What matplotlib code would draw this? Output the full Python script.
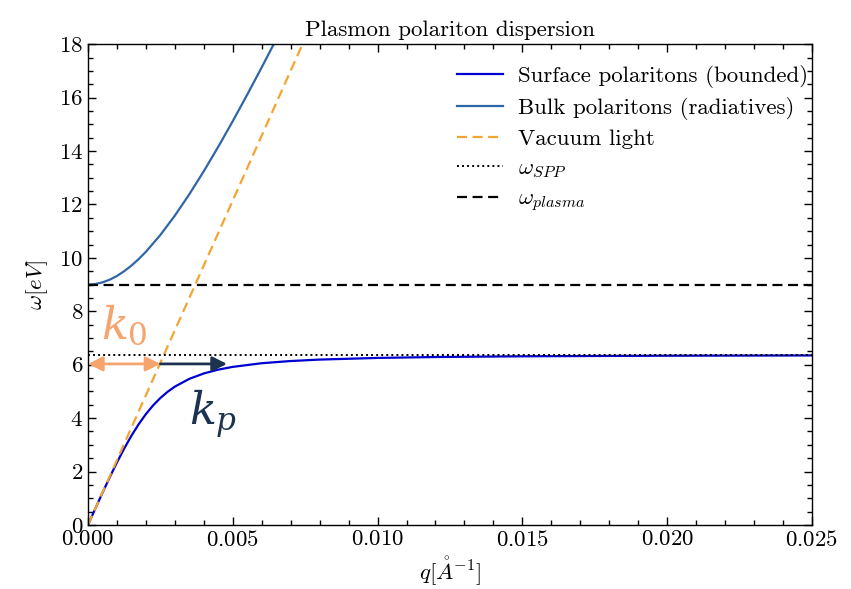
import matplotlib
matplotlib.use("Agg")
import matplotlib.pyplot as plt
from matplotlib.ticker import MultipleLocator

plt.rcParams['font.family'] = 'serif'
plt.rcParams['font.serif'] = ['cmr10', 'DejaVu Serif']
plt.rcParams['mathtext.fontset'] = 'cm'
plt.rcParams['axes.formatter.use_mathtext'] = True

# Surface plasmon polariton branch
q_surf = [0.0, 0.00025, 0.0005, 0.00075, 0.001, 0.00125, 0.0015, 0.00175, 0.002,
          0.00225, 0.0025, 0.00275, 0.003, 0.0035, 0.004, 0.0045, 0.005, 0.006,
          0.007, 0.008, 0.010, 0.012, 0.015, 0.020, 0.025]
w_surf = [0.0, 0.606, 1.204, 1.785, 2.340, 2.862, 3.341, 3.772, 4.152,
          4.478, 4.755, 4.987, 5.180, 5.471, 5.673, 5.816, 5.919, 6.056,
          6.138, 6.192, 6.254, 6.288, 6.315, 6.337, 6.347]

# Bulk polariton branch
q_bulk = [0.0, 0.00025, 0.0005, 0.00075, 0.001, 0.00125, 0.0015, 0.00175, 0.002,
          0.0025, 0.003, 0.0035, 0.004, 0.0045, 0.005, 0.0055, 0.006, 0.0065]
w_bulk = [9.0, 9.021, 9.082, 9.183, 9.322, 9.501, 9.710, 9.955, 10.228,
          10.858, 11.582, 12.383, 13.247, 14.162, 15.120, 16.113, 17.134, 18.179]

# Vacuum light line
q_light = [0.0, 0.0075]
w_light = [0.0, 18.225]

w_spp = 6.364
w_plasma = 9.0

# annotation arrows
k0_range = [0.0, 0.0025]
kp_range = [0.0025, 0.0048]
arrow_w = 6.03

fs = 16.5

fig = plt.figure(figsize=(8.51, 5.89), dpi=100)
ax = fig.add_axes([0.1034, 0.1087, 0.8507, 0.8163])

ax.plot(q_surf, w_surf, color='#0000D0', lw=1.6, label='Surface polaritons (bounded)')
ax.plot(q_bulk, w_bulk, color='#2F66A6', lw=1.6, label='Bulk polaritons (radiatives)')
ax.plot(q_light, w_light, color='#F2A531', lw=1.6, ls=(0, (4.5, 2.5)), label='Vacuum light')
ax.axhline(w_spp, color='black', lw=1.4, ls=(0, (1, 1.6)), label=r'$\omega_{SPP}$')
ax.axhline(w_plasma, color='black', lw=1.6, ls=(0, (4.5, 2.5)), label=r'$\omega_{plasma}$')

ax.set_xlim(0, 0.025)
ax.set_ylim(0, 18)
ax.xaxis.set_major_locator(MultipleLocator(0.005))
ax.xaxis.set_minor_locator(MultipleLocator(0.001))
ax.yaxis.set_major_locator(MultipleLocator(2))
ax.yaxis.set_minor_locator(MultipleLocator(0.5))
ax.tick_params(which='both', direction='in', top=True, right=True, labelsize=fs)
ax.tick_params(which='major', length=6, width=1)
ax.tick_params(which='minor', length=3.5, width=1)
for s in ax.spines.values():
    s.set_linewidth(1.0)

ax.set_xlabel(r'$q [\mathring{A}^{-1}]$', fontsize=fs, labelpad=4)
ax.set_ylabel(r'$\omega [eV]$', fontsize=fs, labelpad=6)
ax.set_title('Plasmon polariton dispersion', fontsize=fs, pad=6)

leg = ax.legend(loc='upper right', bbox_to_anchor=(1.0235, 1.0), frameon=False,
                fontsize=fs, handlelength=2.0, borderaxespad=0.5, labelspacing=0.4,
                handletextpad=0.65)

orange = '#F5A46E'
navy = '#1B3350'
ax.annotate('', xy=(kp_range[1], arrow_w), xytext=(kp_range[0], arrow_w),
            arrowprops=dict(arrowstyle='-|>', color=navy, lw=2, mutation_scale=22,
                            shrinkA=0, shrinkB=0))
ax.annotate('', xy=(k0_range[1], arrow_w), xytext=(k0_range[0], arrow_w),
            arrowprops=dict(arrowstyle='<|-|>', color=orange, lw=2, mutation_scale=22,
                            shrinkA=0, shrinkB=0))
ax.text(0.00045, 6.95, r'$k_0$', color=orange, fontsize=32, math_fontfamily='dejavuserif',
        ha='left', va='baseline')
ax.text(0.0035, 3.75, r'$k_p$', color=navy, fontsize=32, math_fontfamily='dejavuserif',
        ha='left', va='baseline')

fig.savefig('out.png', dpi=100)
